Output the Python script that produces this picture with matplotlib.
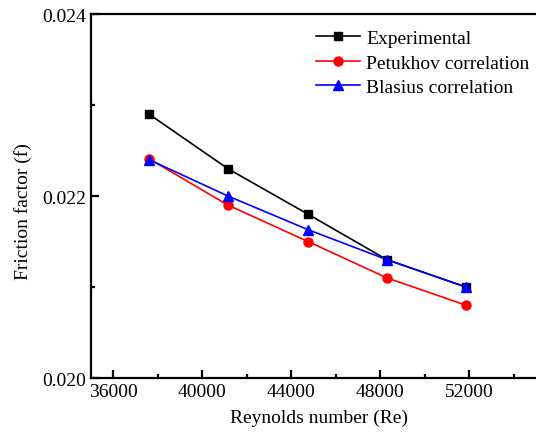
import matplotlib
matplotlib.use("Agg")
import matplotlib.pyplot as plt
from matplotlib.ticker import MultipleLocator

plt.rcParams['font.family'] = ['Liberation Serif', 'DejaVu Serif']
plt.rcParams['mathtext.fontset'] = 'stix'

# data
re_exp = [37600, 41150, 44750, 48300, 51850]
f_exp = [0.0229, 0.0223, 0.0218, 0.0213, 0.0210]
f_pet = [0.02241, 0.0219, 0.0215, 0.0211, 0.0208]
f_bla = [0.0224, 0.0220, 0.02163, 0.0213, 0.0210]

fig = plt.figure(figsize=(5.36, 4.35), dpi=100)
ax = fig.add_axes([0.17, 0.1287, 0.83, 0.8368])

ax.plot(re_exp, f_exp, color='black', marker='s', markersize=6, lw=1.2, label='Experimental')
ax.plot(re_exp, f_pet, color='red', marker='o', markersize=6.5, lw=1.2, label='Petukhov correlation')
ax.plot(re_exp, f_bla, color='blue', marker='^', markersize=7, lw=1.2, label='Blasius correlation')

ax.set_xlim(35000, 55000)
ax.set_ylim(0.020, 0.024)
ax.xaxis.set_major_locator(MultipleLocator(4000))
ax.xaxis.set_minor_locator(MultipleLocator(2000))
ax.yaxis.set_major_locator(MultipleLocator(0.002))
ax.yaxis.set_minor_locator(MultipleLocator(0.001))
ax.yaxis.set_major_formatter(plt.FormatStrFormatter('%.3f'))

for s in ax.spines.values():
    s.set_linewidth(1.6)
ax.spines['right'].set_visible(False)
ax.tick_params(which='both', direction='in', top=False, right=False, labelsize=14, width=1.6)
ax.tick_params(which='major', length=6)
ax.tick_params(which='minor', length=3)

ax.set_xlabel('Reynolds number (Re)', fontsize=14)
ax.set_ylabel('Friction factor (f)', fontsize=14)
ax.xaxis.set_label_coords(0.512, -0.085)
ax.yaxis.set_label_coords(-0.134, 0.46)

ax.legend(loc='upper right', frameon=False, fontsize=14, handlelength=2.3,
          handletextpad=0.3, labelspacing=0.35, borderaxespad=0.4,
          bbox_to_anchor=(1.02, 1.0))

fig.savefig('out.png', dpi=100)
